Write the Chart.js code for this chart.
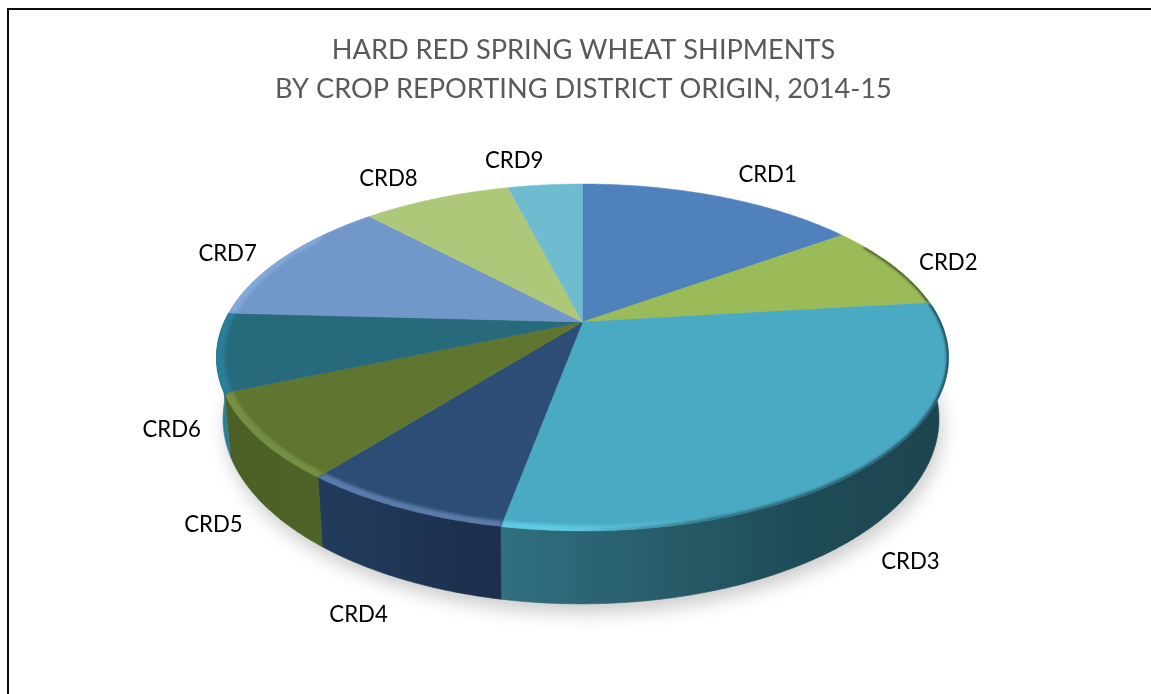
<!DOCTYPE html>
<html>
<head>
<meta charset="utf-8">
<style>
html,body{margin:0;padding:0;background:#fff;overflow:hidden}
#frame{position:absolute;left:7px;top:8px;width:1200px;height:800px;border:2px solid #0c0c0c}
#wrap{position:absolute;left:0;top:0;width:1151px;height:694px}
canvas{display:block}
</style>
</head>
<body>
<div id="frame"></div>
<div id="wrap"><canvas id="c" width="1151" height="694"></canvas></div>
<script src="https://cdn.jsdelivr.net/npm/chart.js@4/dist/chart.umd.js"></script>
<script>
// ---- data (share of shipments, %) ----
const categories = ['CRD1','CRD2','CRD3','CRD4','CRD5','CRD6','CRD7','CRD8','CRD9'];
const shipments  = [15.06, 8.06, 29.8, 7.72, 7.94, 7.28, 12.17, 7.97, 4.0];
const titleLines = ['HARD RED SPRING WHEAT SHIPMENTS','BY CROP REPORTING DISTRICT ORIGIN, 2014-15'];

// ---- styles ----
const topColors = ['#4f81bd','#9bbb59','#4aa9c3','#2c4d75','#5f7530','#276a7c','#7298ca','#aec87a','#6fbbd0'];
const rimColors = ['79,129,189','155,187,89','100,205,230','95,128,175','118,145,68','42,128,155','132,170,220','174,200,122','111,187,208'];
const sideFrom  = ['#3a5f8c','#72893f','#30707f','#233c5d','#4c5f26','#2a8099','#557299','#82965c','#528c9b'];
const sideTo    = ['#3a5f8c','#72893f','#1c444e','#1b2e4b','#4f6328','#2a8099','#557299','#82965c','#528c9b'];
const labelNudge = [[47,-22],[55,-3],[40,97],[-42,107],[-44,88],[-45,78],[-56,-4],[-48,-20],[-31,-24]];

// ---- perspective tilt of the disc, as fractions of the arc radius ----
const PIE_RADIUS = 288;
const TILT = 0.2046;
const topPlane    = {dx:-1/288,   dy:0,     sx:1.2441, sy:0.5771};
const bottomPlane = {dx:-2.5/288, dy:59/288, sx:1.2167, sy:0.6156};

function project(el, plane, angle, r){
  const R = el.outerRadius, c = Math.cos(angle)*r, s = Math.sin(angle)*r, w = 1 - TILT*s;
  return [el.x + R*(plane.dx + plane.sx*c/w), el.y + R*(plane.dy + plane.sy*s/w)];
}
function rimPoints(el, plane, a0, a1, r){
  const n = Math.max(2, Math.ceil(Math.abs(a1-a0)/0.01)), pts = [];
  for(let i=0;i<=n;i++) pts.push(project(el, plane, a0+(a1-a0)*i/n, r));
  return pts;
}
function trace(ctx, pts){ pts.forEach((p,i)=> i? ctx.lineTo(p[0],p[1]) : ctx.moveTo(p[0],p[1])); }

class Arc3D extends Chart.ArcElement {
  static id = 'arc3d';
  draw(ctx){
    const {startAngle, endAngle} = this.getProps(['startAngle','endAngle']);
    const idx = this.$context ? this.$context.dataIndex : 0;
    const deg = Math.PI/180;

    // outer wall: only the part facing the viewer
    const a0 = Math.max(startAngle, -6*deg), a1 = Math.min(endAngle, 183*deg);
    if(a1 > a0){
      const upper = rimPoints(this, topPlane, a0, a1, 1);
      const lower = rimPoints(this, bottomPlane, a1, a0, 1);
      const xs = upper.concat(lower).map(p=>p[0]);
      const g = ctx.createLinearGradient(Math.min(...xs),0,Math.max(...xs),0);
      g.addColorStop(0, sideFrom[idx]); g.addColorStop(1, sideTo[idx]);
      if(idx===2){ // long wall: light end fades by mid-way
        g.addColorStop(0.66, '#1f4c58');
      }
      ctx.beginPath(); trace(ctx, upper.concat(lower)); ctx.closePath();
      ctx.fillStyle = g; ctx.fill();
      ctx.strokeStyle = g; ctx.lineWidth = 0.6; ctx.stroke();
    }

    // top face
    const apex = project(this, topPlane, 0, 0);
    const rim = rimPoints(this, topPlane, startAngle, endAngle, 1);
    const face = new Path2D();
    face.moveTo(apex[0], apex[1]);
    rim.forEach(p=>face.lineTo(p[0],p[1]));
    face.closePath();
    ctx.fillStyle = this.options.backgroundColor;
    ctx.fill(face);
    ctx.strokeStyle = this.options.backgroundColor; ctx.lineWidth = 0.5; ctx.stroke(face);

    // bevel along the rim: a light ring on the left, a soft dark edge on the right
    const b0 = Math.max(startAngle, -30*deg), b1 = Math.min(endAngle, 215*deg);
    if(b1 > b0){
      const R = this.outerRadius, X = this.x;
      ctx.save();
      ctx.clip(face);
      const rc = rimColors[idx];
      const light = ctx.createLinearGradient(X-1.27*R,0,X+1.27*R,0);
      light.addColorStop(0.00,`rgba(${rc},0.9)`);
      light.addColorStop(0.46,`rgba(${rc},0.9)`);
      light.addColorStop(0.68,`rgba(${rc},0)`);
      ctx.filter = 'blur(1.5px)';
      ctx.fillStyle = light;
      ctx.beginPath();
      trace(ctx, rimPoints(this, topPlane, b0, b1, 1.01).concat(rimPoints(this, topPlane, b1, b0, 0.978)));
      ctx.closePath(); ctx.fill();
      const dark = ctx.createLinearGradient(X-1.27*R,0,X+1.27*R,0);
      dark.addColorStop(0.00,'rgba(0,0,0,0)');
      dark.addColorStop(0.50,'rgba(0,0,0,0)');
      dark.addColorStop(0.66,'rgba(0,0,0,0.45)');
      dark.addColorStop(1.00,'rgba(0,0,0,0.75)');
      ctx.filter = 'blur(1.5px)';
      ctx.strokeStyle = dark; ctx.lineWidth = 3;
      ctx.beginPath(); trace(ctx, rimPoints(this, topPlane, b0, b1, 1)); ctx.stroke();
      ctx.restore();
    }
  }
}
class Pie3DController extends Chart.PieController {
  static id = 'pie3d';
  static defaults = Object.assign({}, Chart.PieController.defaults, {dataElementType:'arc3d'});
}
Chart.register(Arc3D, Pie3DController);

const groundShadow = {
  id:'groundShadow',
  beforeDatasetsDraw(chart){
    const el = chart.getDatasetMeta(0).data[0], ctx = chart.ctx;
    ctx.save();
    ctx.filter = 'blur(9px)';
    ctx.fillStyle = 'rgba(0,0,0,0.20)';
    ctx.beginPath();
    trace(ctx, rimPoints(el, bottomPlane, 0, Math.PI*2, 1).map(p=>[p[0]+3,p[1]+9]));
    ctx.closePath(); ctx.fill();
    ctx.restore();
  }
};
const sliceLabels = {
  id:'sliceLabels',
  afterDatasetsDraw(chart){
    const ctx = chart.ctx, arcs = chart.getDatasetMeta(0).data;
    ctx.save();
    ctx.font = '22.2px Lato'; ctx.fillStyle = '#000';
    ctx.textAlign = 'center'; ctx.textBaseline = 'middle';
    arcs.forEach((el,i)=>{
      const p = project(el, topPlane, (el.startAngle+el.endAngle)/2, 1);
      ctx.fillText(categories[i], p[0]+labelNudge[i][0], p[1]+labelNudge[i][1]);
    });
    ctx.restore();
  }
};

new Chart(document.getElementById('c'), {
  type:'pie3d',
  data:{labels:categories, datasets:[{data:shipments, backgroundColor:topColors, borderWidth:0, radius:PIE_RADIUS}]},
  plugins:[groundShadow, sliceLabels],
  options:{
    responsive:false, animation:false, events:[],
    layout:{padding:{left:16, bottom:169}},
    plugins:{
      legend:{display:false}, tooltip:{enabled:false},
      title:{display:true, text:titleLines, color:'#595959',
             font:{family:'Lato', size:27.2, weight:'normal', lineHeight:39/27.2},
             padding:{top:31,bottom:10}}
    }
  }
});
</script>
</body>
</html>
